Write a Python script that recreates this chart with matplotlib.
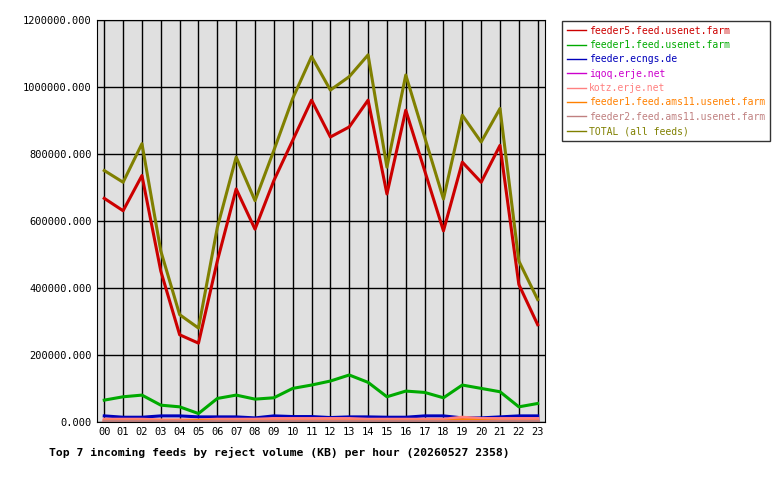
import matplotlib
matplotlib.use("Agg")
import matplotlib.pyplot as plt
from matplotlib.ticker import FuncFormatter

hours = [f"{h:02d}" for h in range(24)]
feeder5 = [667, 630, 735, 450, 260, 235, 480, 695, 575, 720, 840, 960,
           850, 880, 960, 680, 930, 750, 570, 775, 715, 825, 410, 290]
feeder1 = [65, 75, 80, 50, 45, 25, 70, 80, 68, 72, 100, 110,
           122, 140, 118, 75, 92, 88, 72, 110, 100, 90, 45, 55]
ecngs = [18, 14, 14, 18, 18, 15, 15, 15, 12, 18, 16, 16,
         13, 15, 15, 14, 14, 18, 18, 12, 12, 15, 18, 18]
iqoq = [4, 4, 4, 4, 4, 4, 4, 4, 6, 8, 6, 6, 6, 6, 6, 6, 6, 6, 6, 8, 6, 6, 8, 8]
kotz = [8, 8, 8, 6, 6, 6, 8, 8, 8, 10, 10, 10, 10, 10, 8, 8, 8, 8, 8, 14, 10, 10, 10, 10]
ams1 = [2, 2, 2, 2, 2, 4, 2, 2, 2, 2, 2, 2, 2, 2, 2, 2, 2, 2, 2, 6, 4, 2, 2, 2]
ams2 = [4, 4, 4, 4, 4, 4, 4, 4, 4, 4, 4, 4, 4, 4, 4, 4, 4, 4, 4, 4, 4, 4, 4, 4]
total = [750, 715, 830, 510, 320, 280, 580, 790, 660, 810, 965, 1090,
         990, 1030, 1095, 760, 1035, 850, 665, 915, 835, 935, 480, 365]

series = [
    ("feeder5.feed.usenet.farm", feeder5, "#cc0000"),
    ("feeder1.feed.usenet.farm", feeder1, "#00aa00"),
    ("feeder.ecngs.de", ecngs, "#0000bb"),
    ("iqoq.erje.net", iqoq, "#cc00cc"),
    ("kotz.erje.net", kotz, "#ff8080"),
    ("feeder1.feed.ams11.usenet.farm", ams1, "#ff8000"),
    ("feeder2.feed.ams11.usenet.farm", ams2, "#c08080"),
    ("TOTAL (all feeds)", total, "#808000"),
]

plt.rcParams["font.family"] = "DejaVu Sans Mono"
fig = plt.figure(figsize=(7.8, 4.8), dpi=100)
ax = fig.add_axes([0.124, 0.121, 0.575, 0.838])
ax.set_facecolor("#e0e0e0")
x = list(range(24))
for name, vals, color in series:
    ax.plot(x, [v * 1000 for v in vals], color=color, lw=2.2, label=name)

ax.set_xlim(-0.4, 23.4)
ax.set_ylim(0, 1200000)
ax.set_xticks(x)
ax.set_xticklabels(hours)
ax.set_yticks(range(0, 1200001, 200000))
ax.yaxis.set_major_formatter(FuncFormatter(lambda v, p: f"{v:.3f}"))
ax.tick_params(labelsize=7.5, length=0)
ax.grid(True, color="black", lw=1)
ax.set_axisbelow(True)
for s in ax.spines.values():
    s.set_color("black")

leg = fig.legend(loc="upper left", bbox_to_anchor=(0.714, 0.967), fontsize=7,
                 frameon=True, fancybox=False, edgecolor="black",
                 handlelength=2, handletextpad=0.3, labelspacing=0.45, borderpad=0.5)
for line, txt in zip(leg.get_lines(), leg.get_texts()):
    line.set_linewidth(1)
    txt.set_color(line.get_color())

fig.text(0.063, 0.05, "Top 7 incoming feeds by reject volume (KB) per hour (20260527 2358)",
         fontsize=8.2, fontweight="bold")
fig.savefig("out.png")
